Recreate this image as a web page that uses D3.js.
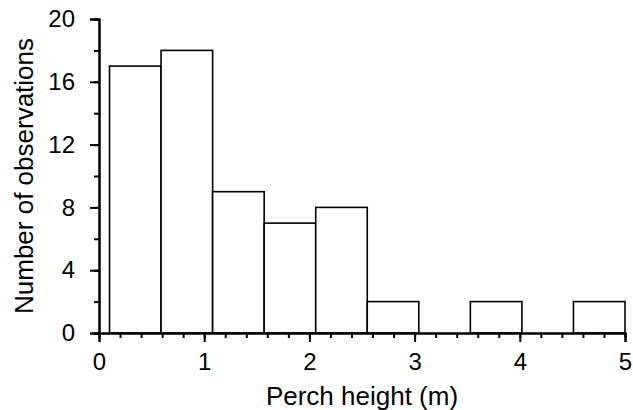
<!DOCTYPE html>
<html>
<head>
<meta charset="utf-8">
<script src="https://cdn.jsdelivr.net/npm/d3@7"></script>
<style>
  body { margin: 0; background: #fff; }
  text { font-family: "Liberation Sans", Arial, sans-serif; fill: #000; }
</style>
</head>
<body>
<div id="chart"></div>
<script>
// Datos del histograma (bordes de clase y conteos)
const binStarts = [0.1, 0.59, 1.08, 1.57, 2.06, 2.55, 3.04, 3.53, 4.02, 4.51];
const binWidth = 0.49;
const counts = [17, 18, 9, 7, 8, 2, 0, 2, 0, 2];
const xTicks = [0, 1, 2, 3, 4, 5];
const yTicks = [0, 4, 8, 12, 16, 20];

const data = binStarts.map((s, i) => ({ x0: s, x1: s + binWidth, n: counts[i] }));

const width = 633, height = 410;
const margin = { top: 19, right: 8, bottom: 77, left: 99 };

const svg = d3.select("#chart").append("svg")
    .attr("width", width)
    .attr("height", height);

const x = d3.scaleLinear().domain([0, 5]).range([margin.left, width - margin.right]);
const y = d3.scaleLinear().domain([0, 20]).range([height - margin.bottom, margin.top]);

// Barras
svg.selectAll(".bar")
    .data(data.filter(d => d.n > 0))
    .enter()
    .append("rect")
    .attr("class", "bar")
    .attr("x", d => x(d.x0))
    .attr("y", d => y(d.n))
    .attr("width", d => x(d.x1) - x(d.x0))
    .attr("height", d => y(0) - y(d.n))
    .attr("fill", "#fff")
    .attr("stroke", "#000")
    .attr("stroke-width", 1.6);

// Eje X: marcas menores cada 0.2
const xAxis = svg.append("g")
    .attr("transform", `translate(0,${y(0)})`);
xAxis.call(d3.axisBottom(x).tickValues(d3.range(0, 5.001, 0.2)).tickSize(5).tickFormat(""));
xAxis.append("g").call(d3.axisBottom(x).tickValues(xTicks).tickSize(9).tickPadding(11).tickFormat(d3.format("d")));

// Eje Y: marcas menores cada 2
const yAxis = svg.append("g")
    .attr("transform", `translate(${x(0)},0)`);
yAxis.call(d3.axisLeft(y).tickValues(d3.range(0, 21, 2)).tickSize(5).tickFormat(""));
yAxis.append("g").call(d3.axisLeft(y).tickValues(yTicks).tickSize(9).tickPadding(15).tickFormat(d3.format("d")));

// quitar dominios duplicados en los subgrupos
xAxis.select("g").select(".domain").remove();
yAxis.select("g").select(".domain").remove();

svg.selectAll(".domain").attr("stroke-width", 2).attr("stroke", "#000");
svg.selectAll(".tick line").attr("stroke-width", 2).attr("stroke", "#000");
svg.selectAll(".tick text").style("font-size", "24px").attr("fill", "#000");

// Títulos de ejes
svg.append("text")
    .attr("x", (x(0) + x(5)) / 2)
    .attr("y", 405)
    .attr("text-anchor", "middle")
    .style("font-size", "26px")
    .text("Perch height (m)");

svg.append("text")
    .attr("transform", `translate(33,${(y(0) + y(20)) / 2}) rotate(-90)`)
    .attr("text-anchor", "middle")
    .style("font-size", "26px")
    .text("Number of observations");
</script>
</body>
</html>
